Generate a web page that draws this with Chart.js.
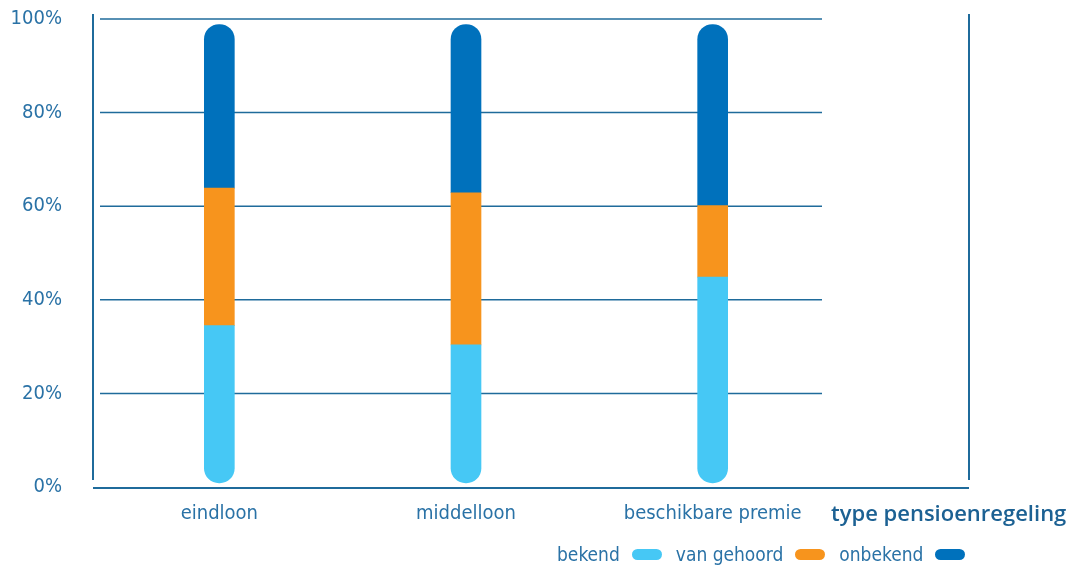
<!DOCTYPE html>
<html>
<head>
<meta charset="utf-8">
<script src="https://cdn.jsdelivr.net/npm/chart.js"></script>
<style>
  body { margin: 0; background: #fff; }
  #wrap { position: relative; width: 1069px; height: 567px; }
  #axisTitle { position: absolute; left: 831px; top: 497px; font: 600 22px "Open Sans", sans-serif; color: #1c6193; white-space: nowrap; }
  #legend { position: absolute; left: 557px; top: 543px; display: flex; align-items: center; font: 19px "DejaVu Sans Condensed", sans-serif; color: #2a72a6; white-space: nowrap; }
  #legend .item { display: flex; align-items: center; margin-right: 14px; }
  #legend .pill { display: inline-block; width: 30px; height: 11px; border-radius: 6px; margin-left: 12px; }
</style>
</head>
<body>
<div id="wrap">
  <canvas id="chart"></canvas>
  <div id="axisTitle">type pensioenregeling</div>
  <div id="legend"></div>
</div>
<script>
const categories = ['eindloon', 'middelloon', 'beschikbare premie'];
const seriesNames = ['bekend', 'van gehoord', 'onbekend'];
const bekend = [34.3, 30.1, 44.9];
const vanGehoord = [30.0, 33.2, 15.6];
const onbekend = [35.7, 36.7, 39.5];
const yTicks = [0, 20, 40, 60, 80, 100];

const colors = ['#46c8f5', '#f7941d', '#0071bc'];
const lineColor = '#1f6b9b';
const textColor = '#2a72a6';
const condensed = '"DejaVu Sans Condensed", sans-serif';

// alleen de buitenste uiteinden van de stapel afronden
const radii = [
  { topLeft: 0, topRight: 0, bottomLeft: 15, bottomRight: 15 },
  0,
  { topLeft: 15, topRight: 15, bottomLeft: 0, bottomRight: 0 }
];

// assen en rasterlijnen zelf tekenen (onder de staven)
const frame = {
  id: 'frame',
  beforeDatasetsDraw(chart) {
    const { ctx, chartArea: a, scales: { y } } = chart;
    const line = (x1, y1, x2, y2) => {
      ctx.beginPath();
      ctx.moveTo(x1, y1);
      ctx.lineTo(x2, y2);
      ctx.stroke();
    };
    ctx.save();
    ctx.strokeStyle = lineColor;
    ctx.lineWidth = 1.5;
    yTicks.forEach(v => {
      if (v === 0) return;
      const py = y.getPixelForValue(v);
      line(a.left + 4, py, a.right - 14, py);
    });
    ctx.lineWidth = 2;
    const rightX = chart.width - 100;
    line(a.left - 3, a.top - 5, a.left - 3, a.bottom - 7);
    line(a.left - 3, a.bottom + 1, rightX, a.bottom + 1);
    line(rightX, a.top - 5, rightX, a.bottom - 7);
    ctx.restore();
  }
};

const chart = new Chart(document.getElementById('chart'), {
  type: 'bar',
  data: {
    labels: categories,
    datasets: [bekend, vanGehoord, onbekend].map((d, i) => ({
      label: seriesNames[i],
      data: d,
      backgroundColor: colors[i],
      yAxisID: 'yBar',
      barThickness: 30,
      borderRadius: radii[i],
      borderSkipped: false,
    }))
  },
  options: {
    responsive: true,
    maintainAspectRatio: false,
    animation: false,
    layout: { autoPadding: false, padding: { top: 19, right: 233, bottom: 0, left: 0 } },
    plugins: {
      legend: { display: false },
      tooltip: { enabled: false }
    },
    scales: {
      x: {
        stacked: true,
        grid: { display: false, drawTicks: false },
        border: { display: false },
        ticks: { color: textColor, font: { family: condensed, size: 20 }, padding: 15 },
        afterFit: s => { s.height = 80; }
      },
      y: {
        min: 0,
        max: 100,
        afterBuildTicks: s => { s.ticks = yTicks.map(v => ({ value: v })); },
        grid: { display: false, drawTicks: false },
        border: { display: false },
        ticks: { color: textColor, font: { family: condensed, size: 20 }, padding: 34, callback: v => v + '%' },
        afterFit: s => {
          s.width = 96;
          // tick-padding niet als extra ruimte boven/onder meetellen
          s.paddingTop = 0;
          s.paddingBottom = 0;
        }
      },
      // staven iets ingesprongen t.o.v. 0% en 100%
      yBar: { stacked: true, min: -0.9, max: 101.2, display: false }
    }
  },
  plugins: [frame]
});

// legenda: tekst gevolgd door een afgerond blokje
const legend = document.getElementById('legend');
chart.data.datasets.forEach(ds => {
  const item = document.createElement('span');
  item.className = 'item';
  const txt = document.createElement('span');
  txt.textContent = ds.label;
  const pill = document.createElement('span');
  pill.className = 'pill';
  pill.style.background = ds.backgroundColor;
  item.append(txt, pill);
  legend.append(item);
});
</script>
</body>
</html>
